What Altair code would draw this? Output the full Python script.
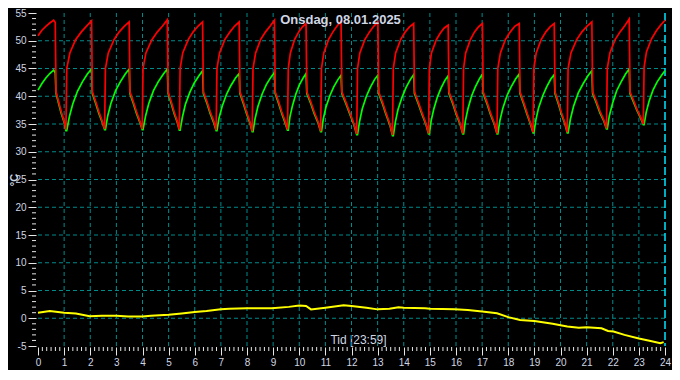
import altair as alt
import pandas as pd

# ---- data ----
red_t = [0, 0.15, 0.30, 0.45, 0.60, 0.66,
         0.69, 0.79, 0.89, 1.00, 1.07,
         1.10, 1.22, 1.44, 1.66, 1.85, 2.05,
         2.08, 2.21, 2.33, 2.46, 2.55,
         2.58, 2.69, 2.91, 3.11, 3.30, 3.49,
         3.52, 3.65, 3.77, 3.90, 3.99,
         4.02, 4.13, 4.36, 4.57, 4.76, 4.95,
         4.98, 5.10, 5.21, 5.33, 5.41,
         5.44, 5.54, 5.75, 5.94, 6.12, 6.30,
         6.33, 6.47, 6.59, 6.73, 6.82,
         6.85, 6.95, 7.15, 7.35, 7.52, 7.70,
         7.73, 7.86, 7.98, 8.11, 8.20,
         8.23, 8.33, 8.52, 8.71, 8.88, 9.05,
         9.08, 9.21, 9.33, 9.46, 9.55,
         9.58, 9.66, 9.82, 9.98, 10.12, 10.26,
         10.29, 10.44, 10.57, 10.72, 10.82,
         10.85, 10.94, 11.12, 11.29, 11.44, 11.60,
         11.63, 11.79, 11.94, 12.09, 12.20,
         12.23, 12.32, 12.51, 12.69, 12.85, 13.01,
         13.04, 13.19, 13.32, 13.47, 13.57,
         13.60, 13.69, 13.88, 14.06, 14.22, 14.38,
         14.41, 14.56, 14.70, 14.85, 14.95,
         14.98, 15.06, 15.24, 15.40, 15.55, 15.70,
         15.73, 15.88, 16.01, 16.16, 16.26,
         16.29, 16.37, 16.55, 16.71, 16.86, 17.01,
         17.04, 17.19, 17.32, 17.47, 17.57,
         17.60, 17.70, 17.89, 18.08, 18.25, 18.42,
         18.45, 18.59, 18.72, 18.85, 18.95,
         18.98, 19.07, 19.26, 19.44, 19.60, 19.76,
         19.79, 19.92, 20.04, 20.17, 20.26,
         20.29, 20.40, 20.62, 20.82, 21.01, 21.20,
         21.23, 21.38, 21.51, 21.66, 21.76,
         21.79, 21.89, 22.09, 22.28, 22.46, 22.63,
         22.66, 22.80, 22.93, 23.07, 23.17,
         23.20, 23.29, 23.49, 23.67, 23.83, 24.00]
red_v = [50.9, 51.9, 52.6, 53.2, 53.7, 53.3,
         40.8, 39.0, 37.2, 35.5, 34.0,
         45.0, 47.8, 50.2, 51.6, 52.6, 53.6,
         40.8, 39.0, 37.2, 35.5, 34.1,
         45.0, 47.8, 50.2, 51.6, 52.6, 53.4,
         40.8, 39.0, 37.2, 35.5, 34.1,
         45.0, 47.8, 50.2, 51.6, 52.6, 53.8,
         40.8, 39.0, 37.2, 35.5, 34.0,
         45.0, 47.8, 50.2, 51.6, 52.6, 53.4,
         40.8, 39.0, 37.2, 35.5, 33.9,
         45.0, 47.8, 50.2, 51.6, 52.6, 53.4,
         40.8, 39.0, 37.2, 35.4, 33.7,
         45.0, 47.8, 50.2, 51.6, 52.6, 53.7,
         40.8, 39.0, 37.2, 35.5, 34.0,
         45.0, 47.8, 50.2, 51.6, 52.5, 53.1,
         40.8, 39.0, 37.2, 35.4, 33.7,
         45.0, 47.8, 50.2, 51.6, 52.6, 53.5,
         40.8, 38.9, 37.0, 35.1, 33.2,
         45.0, 47.8, 50.2, 51.6, 52.6, 53.4,
         40.8, 38.9, 37.0, 35.0, 33.0,
         45.0, 47.8, 50.2, 51.6, 52.5, 53.1,
         40.8, 38.9, 37.0, 35.1, 33.3,
         45.0, 47.8, 50.1, 51.4, 52.3, 52.8,
         40.8, 38.9, 37.0, 35.1, 33.3,
         45.0, 47.8, 50.2, 51.6, 52.5, 53.1,
         40.8, 38.9, 37.0, 35.1, 33.3,
         45.0, 47.8, 50.2, 51.6, 52.6, 53.1,
         40.8, 38.9, 37.0, 35.2, 33.5,
         45.0, 47.8, 50.2, 51.6, 52.5, 53.1,
         40.8, 38.9, 37.0, 35.2, 33.5,
         45.0, 47.8, 50.2, 51.6, 52.6, 53.4,
         40.8, 39.0, 37.3, 35.7, 34.2,
         45.0, 47.8, 50.2, 51.6, 52.7, 53.9,
         40.8, 39.2, 37.6, 36.2, 35.0,
         45.2, 48.0, 50.4, 51.8, 52.8, 53.7]

green_t = [0, 0.15, 0.30, 0.45, 0.60, 0.66,
           0.69, 0.79, 0.89, 1.00, 1.07,
           1.10, 1.20, 1.33, 1.51, 1.70, 1.89, 2.05,
           2.08, 2.21, 2.33, 2.46, 2.55,
           2.58, 2.67, 2.79, 2.97, 3.15, 3.34, 3.49,
           3.52, 3.65, 3.77, 3.90, 3.99,
           4.02, 4.12, 4.24, 4.42, 4.60, 4.80, 4.95,
           4.98, 5.10, 5.21, 5.33, 5.41,
           5.44, 5.53, 5.64, 5.81, 5.98, 6.16, 6.30,
           6.33, 6.47, 6.59, 6.73, 6.82,
           6.85, 6.93, 7.05, 7.22, 7.38, 7.56, 7.70,
           7.73, 7.86, 7.98, 8.11, 8.20,
           8.23, 8.31, 8.42, 8.58, 8.74, 8.91, 9.05,
           9.08, 9.21, 9.33, 9.46, 9.55,
           9.58, 9.64, 9.74, 9.87, 10.00, 10.15, 10.26,
           10.29, 10.44, 10.57, 10.72, 10.82,
           10.85, 10.92, 11.02, 11.17, 11.32, 11.48, 11.60,
           11.63, 11.79, 11.94, 12.09, 12.20,
           12.23, 12.31, 12.41, 12.57, 12.72, 12.88, 13.01,
           13.04, 13.19, 13.32, 13.47, 13.57,
           13.60, 13.68, 13.78, 13.94, 14.09, 14.25, 14.38,
           14.41, 14.56, 14.70, 14.85, 14.95,
           14.98, 15.05, 15.15, 15.29, 15.43, 15.58, 15.70,
           15.73, 15.88, 16.01, 16.16, 16.26,
           16.29, 16.36, 16.46, 16.60, 16.74, 16.89, 17.01,
           17.04, 17.19, 17.32, 17.47, 17.57,
           17.60, 17.68, 17.79, 17.95, 18.11, 18.28, 18.42,
           18.45, 18.59, 18.72, 18.85, 18.95,
           18.98, 19.06, 19.16, 19.32, 19.47, 19.63, 19.76,
           19.79, 19.92, 20.04, 20.17, 20.26,
           20.29, 20.38, 20.50, 20.68, 20.86, 21.05, 21.20,
           21.23, 21.38, 21.51, 21.66, 21.76,
           21.79, 21.87, 21.99, 22.15, 22.32, 22.49, 22.63,
           22.66, 22.80, 22.93, 23.07, 23.17,
           23.20, 23.28, 23.39, 23.54, 23.70, 23.87, 24.00]
green_v = [41.1, 42.3, 43.3, 44.1, 44.7, 44.2,
           40.5, 38.7, 36.9, 35.3, 33.8,
           33.8, 36.3, 38.6, 40.9, 42.6, 44.0, 44.9,
           40.5, 38.7, 36.9, 35.3, 34.0,
           34.0, 36.5, 38.7, 41.0, 42.6, 44.0, 44.9,
           40.5, 38.7, 36.9, 35.3, 34.0,
           34.0, 36.5, 38.7, 41.0, 42.6, 44.0, 44.9,
           40.5, 38.7, 36.9, 35.3, 33.9,
           33.9, 36.3, 38.5, 40.7, 42.4, 43.7, 44.6,
           40.5, 38.7, 36.9, 35.2, 33.8,
           33.8, 36.1, 38.2, 40.4, 41.9, 43.3, 44.1,
           40.5, 38.7, 36.9, 35.2, 33.6,
           33.6, 36.0, 38.2, 40.4, 42.1, 43.4, 44.3,
           40.5, 38.7, 36.9, 35.2, 33.9,
           33.9, 36.2, 38.3, 40.4, 42.0, 43.3, 44.1,
           40.5, 38.7, 36.9, 35.2, 33.6,
           33.6, 35.9, 38.0, 40.1, 41.7, 43.0, 43.8,
           40.5, 38.6, 36.7, 34.9, 33.1,
           33.1, 35.5, 37.7, 40.0, 41.6, 43.0, 43.8,
           40.5, 38.6, 36.7, 34.8, 32.9,
           32.9, 35.4, 37.6, 39.9, 41.6, 43.0, 43.9,
           40.5, 38.6, 36.7, 34.9, 33.2,
           33.2, 35.6, 37.7, 39.9, 41.5, 42.9, 43.7,
           40.5, 38.6, 36.7, 34.9, 33.2,
           33.2, 35.6, 37.8, 40.1, 41.7, 43.1, 44.0,
           40.5, 38.6, 36.7, 34.9, 33.2,
           33.2, 35.6, 37.8, 40.1, 41.7, 43.1, 44.0,
           40.5, 38.6, 36.7, 35.0, 33.4,
           33.4, 35.8, 37.9, 40.1, 41.7, 43.1, 43.9,
           40.5, 38.6, 36.7, 35.0, 33.4,
           33.4, 35.9, 38.2, 40.6, 42.2, 43.7, 44.6,
           40.5, 38.7, 37.0, 35.5, 34.1,
           34.1, 36.5, 38.7, 41.0, 42.6, 44.0, 44.9,
           40.5, 38.9, 37.4, 36.0, 34.9,
           34.9, 37.1, 39.1, 41.1, 42.6, 43.8, 44.6]

out_t = [0, 0.45, 1.0, 1.45, 1.98, 2.45, 3.0, 3.45, 4.0, 4.32, 5.0, 5.5, 6.0,
         6.45, 7.0, 7.32, 8.0, 8.95, 9.6, 10.0, 10.26, 10.45, 11.0, 11.7, 12.0,
         12.57, 13.0, 13.45, 13.8, 14.0, 14.82, 15.0, 15.95, 16.45, 17.0, 17.57,
         18.0, 18.45, 19.0, 19.7, 20.0, 20.26, 20.7, 21.0, 21.57, 21.82, 22.03,
         22.45, 23.0, 23.45, 23.82, 23.95]
out_v = [1.0, 1.3, 1.0, 0.86, 0.35, 0.46, 0.46, 0.3, 0.3, 0.46, 0.63, 0.86, 1.14,
         1.3, 1.6, 1.7, 1.8, 1.8, 2.05, 2.3, 2.2, 1.6, 1.9, 2.35, 2.2,
         1.9, 1.6, 1.7, 2.0, 1.9, 1.8, 1.7, 1.6, 1.5, 1.2, 0.9,
         0.2, -0.3, -0.5, -1.0, -1.25, -1.5, -1.7, -1.6, -1.8, -2.3, -2.4,
         -3.0, -3.65, -4.1, -4.5, -4.3]

TITLE = "Onsdag, 08.01.2025"
X_TITLE = "Tid [23:59]"
Y_TITLE = "°C"
hours_major = list(range(0, 25))
temps_major = list(range(-5, 56, 5))
grid_hours = list(range(1, 24))
grid_temps = list(range(0, 51, 5))
minor_hours = [i / 6 for i in range(0, 145) if i % 6]
minor_temps = [v for v in range(-5, 56) if v % 5]
now_hour = [24]

# ---- styling ----
W, H = 627, 333
FONT = "Liberation Sans"
LBL = "#cfd6e4"
TICK = "#e6e6e6"
GRID = "#008b8b"

xs = alt.Scale(domain=[0, 24], nice=False, zero=False)
ys = alt.Scale(domain=[-5, 55], nice=False, zero=False)

red_df = pd.DataFrame({"t": red_t, "v": red_v})
green_df = pd.DataFrame({"t": green_t, "v": green_v})
out_df = pd.DataFrame({"t": out_t, "v": out_v})

x_axis = alt.Axis(values=hours_major, tickSize=8, tickColor=TICK, tickWidth=1,
                  domain=False, grid=False, labelColor=LBL, labelFont=FONT,
                  labelFontSize=10, labelPadding=2, labelAngle=0, labelFlush=False,
                  labelOverlap=False, format="d", offset=1,
                  title=X_TITLE, titleColor=LBL, titleFont=FONT, titleFontSize=12,
                  titleFontWeight="normal", titleX=320, titleY=-4,
                  titleBaseline="alphabetic", titleAlign="center")
y_axis = alt.Axis(values=temps_major, tickSize=8, tickColor=TICK, tickWidth=1,
                  domain=False, grid=False, labelColor=LBL, labelFont=FONT,
                  labelFontSize=10, labelPadding=2, labelFlush=False,
                  labelOverlap=False, labelExpr="'' + datum.value", offset=2,
                  title=Y_TITLE, titleColor=LBL, titleFont=FONT, titleFontSize=11,
                  titleFontWeight="bold", titleX=-19, titleY=H / 2, titleAngle=270,
                  titleBaseline="alphabetic", titleAlign="center")

X = alt.X("t:Q", scale=xs, axis=x_axis)
Y = alt.Y("v:Q", scale=ys, axis=y_axis)

vgrid = alt.Chart(pd.DataFrame({"t": grid_hours})).mark_rule(
    color=GRID, strokeWidth=1, strokeDash=[4, 3]
).encode(x=X)

hgrid = alt.Chart(pd.DataFrame({"v": grid_temps})).mark_rule(
    color=GRID, strokeWidth=1, strokeDash=[4, 3]
).encode(y=Y)

now_line = alt.Chart(pd.DataFrame({"t": now_hour})).mark_rule(
    color="#00e5ff", strokeWidth=1.5, strokeDash=[8, 3]
).encode(x=X)

minor_y = alt.Chart(pd.DataFrame({"v": minor_temps})).mark_rule(
    color=TICK, strokeWidth=1
).encode(y=Y, x=alt.value(-6), x2=alt.value(-2))

minor_x = alt.Chart(pd.DataFrame({"t": minor_hours})).mark_rule(
    color=TICK, strokeWidth=1
).encode(x=X, y=alt.value(H + 1), y2=alt.value(H + 5))

title_text = alt.Chart(pd.DataFrame({"label": [TITLE]})).mark_text(
    align="center", baseline="alphabetic", font=FONT, fontSize=13,
    fontWeight="bold", color=LBL
).encode(text="label:N", x=alt.value(W / 2 - 11), y=alt.value(11))


def series(df, color, width):
    return alt.Chart(df).mark_line(color=color, strokeWidth=width).encode(
        x=X, y=Y, order="t:Q",
    )


chart = alt.layer(
    vgrid, hgrid, now_line, minor_y, minor_x,
    series(out_df, "#ffff00", 2),
    series(green_df, "#00ff00", 1.7),
    series(red_df, "#ff0000", 1.7),
    title_text,
).properties(
    width=W,
    height=H,
    padding={"left": 30, "top": 5, "right": 7, "bottom": 24},
    autosize=alt.AutoSizeParams(type="none"),
).configure(
    background="#000000"
).configure_view(
    stroke=None
)

chart.save("out.html", embed_options={"renderer": "svg", "actions": False})
